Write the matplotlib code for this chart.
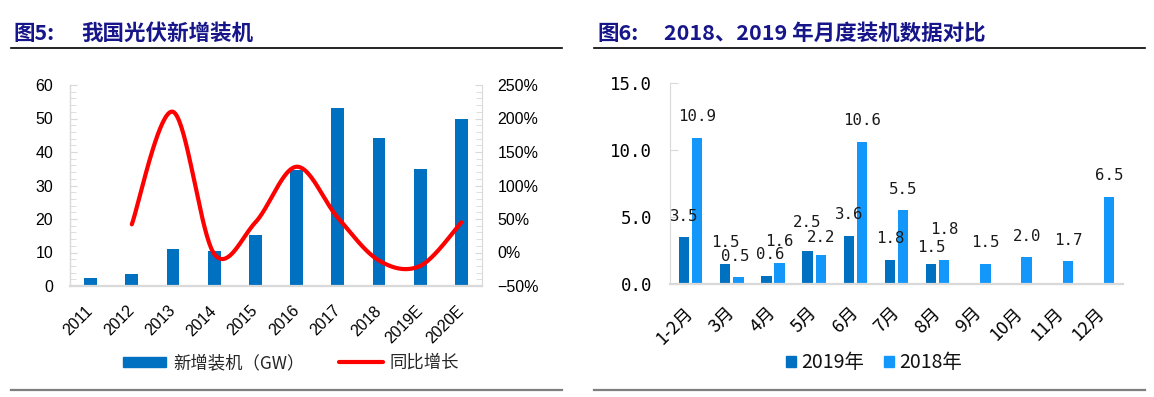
import numpy as np
import matplotlib
matplotlib.use("Agg")
import matplotlib.pyplot as plt
from matplotlib.lines import Line2D
from matplotlib.patches import Patch
from matplotlib.ticker import MultipleLocator, FuncFormatter

# ---------------- data ----------------
years = ["2011", "2012", "2013", "2014", "2015", "2016", "2017", "2018", "2019E", "2020E"]
new_install = [2.5, 3.5, 11.0, 10.5, 15.2, 34.5, 53.0, 44.3, 35.0, 50.0]
growth_years = ["2012", "2013", "2014", "2015", "2016", "2017", "2018", "2019E", "2020E"]
growth_pct = [42, 210, -2, 45, 128, 52, -12, -20, 45]

months = ["1-2月", "3月", "4月", "5月", "6月", "7月", "8月", "9月", "10月", "11月", "12月"]
m2019 = [3.5, 1.5, 0.6, 2.5, 3.6, 1.8, 1.5, None, None, None, None]
m2018 = [10.9, 0.5, 1.6, 2.2, 10.6, 5.5, 1.8, 1.5, 2.0, 1.7, 6.5]

# ---------------- style ----------------
W, H = 1154, 397
fig = plt.figure(figsize=(W / 100, H / 100), dpi=100)
CJK = ["Noto Sans CJK SC", "DejaVu Sans"]
NAVY = "#16168A"
BLUE = "#0070C0"
LBLUE = "#1497FA"
GRID = "#D9D9D9"


def fx(px):
    return px / W


def fy(py):
    return 1 - py / H


# titles
fig.text(fx(13), fy(33), "图5:", family=CJK, weight="bold", fontsize=15.5, color=NAVY, va="center")
fig.text(fx(81), fy(33), "我国光伏新增装机", family=CJK, weight="bold", fontsize=15.5, color=NAVY, va="center")
fig.text(fx(597), fy(33), "图6:", family=CJK, weight="bold", fontsize=15.5, color=NAVY, va="center")
fig.text(fx(664), fy(33), "2018、2019 年月度装机数据对比", family=CJK, weight="bold", fontsize=15.5,
         color=NAVY, va="center")

for x0, x1 in [(11, 562), (594, 1145)]:
    fig.add_artist(Line2D([fx(x0), fx(x1)], [fy(48), fy(48)], color="black", lw=1.2))
    fig.add_artist(Line2D([fx(x0), fx(x1)], [fy(390), fy(390)], color="#7F7F7F", lw=1.6))

# ---------------- left chart ----------------
ax1 = fig.add_axes([fx(70), fy(286), fx(482) - fx(70), fy(85) - fy(286)])
x = np.arange(len(years))
ax1.bar(x, new_install, width=0.31, color=BLUE, zorder=2)
ax1.set_xlim(-0.5, len(years) - 0.5)
ax1.set_ylim(0, 60)
ax1.yaxis.set_major_locator(MultipleLocator(10))
ax1.yaxis.set_minor_locator(MultipleLocator(2))
for s in ["top", "right"]:
    ax1.spines[s].set_visible(False)
ax1.spines["left"].set_color(GRID)
ax1.spines["left"].set_linewidth(1.0)
ax1.spines["bottom"].set_color(GRID)
ax1.spines["bottom"].set_linewidth(1.6)
ax1.tick_params(axis="y", which="both", direction="in", color=GRID, labelsize=11.5, pad=12)
ax1.tick_params(axis="y", which="major", length=5)
ax1.tick_params(axis="y", which="minor", length=4)
ax1.tick_params(axis="x", length=0, pad=16)
ax1.set_xticks(x)
ax1.set_xticklabels(years, rotation=45, ha="right", va="center", rotation_mode="anchor",
                    family="Liberation Sans", fontsize=11.5)
for lab in ax1.get_yticklabels():
    lab.set_family("Liberation Sans")

ax2 = ax1.twinx()
ax2.set_ylim(-50, 250)
ax2.yaxis.set_major_locator(MultipleLocator(50))
ax2.yaxis.set_minor_locator(MultipleLocator(10))
ax2.yaxis.set_major_formatter(FuncFormatter(lambda v, p: f"{v:.0f}%".replace("-", "\u2212")))
for s in ["top", "left", "bottom"]:
    ax2.spines[s].set_visible(False)
ax2.spines["right"].set_color(GRID)
ax2.tick_params(axis="y", which="both", direction="in", color=GRID, labelsize=11.5, pad=11)
ax2.tick_params(axis="y", which="major", length=5)
ax2.tick_params(axis="y", which="minor", length=4)
for lab in ax2.get_yticklabels():
    lab.set_family("Liberation Sans")

# smoothed (Excel-style Bezier) growth line
gx = np.array([years.index(g) for g in growth_years], dtype=float)
gy = np.array(growth_pct, dtype=float)
pts = np.column_stack([gx, gy])
segs = []
t = np.linspace(0, 1, 40)[:, None]
for i in range(len(pts) - 1):
    p0 = pts[i - 1] if i > 0 else pts[i]
    p1, p2 = pts[i], pts[i + 1]
    p3 = pts[i + 2] if i + 2 < len(pts) else pts[i + 1]
    c1 = p1 + (p2 - p0) / 6
    c2 = p2 - (p3 - p1) / 6
    segs.append((1 - t) ** 3 * p1 + 3 * (1 - t) ** 2 * t * c1 + 3 * (1 - t) * t ** 2 * c2 + t ** 3 * p2)
curve = np.vstack(segs)
ax2.plot(curve[:, 0], curve[:, 1], color="#FF0000", lw=3, solid_capstyle="round", zorder=3)

fig.legend([Patch(color=BLUE), Line2D([], [], color="#FF0000", lw=3, solid_capstyle="round")],
           ["新增装机（GW）", "同比增长"], loc="center", bbox_to_anchor=(fx(291), fy(363)),
           ncol=2, frameon=False, prop={"family": CJK, "size": 12.5},
           handlelength=2.5, handleheight=0.5, handletextpad=0.4, columnspacing=2.0,
           labelcolor="#262626")

# ---------------- right chart ----------------
ax3 = fig.add_axes([fx(670), fy(284), fx(1123) - fx(670), fy(83) - fy(284)])
xm = np.arange(len(months))
bw = 0.25
off = 0.16
x19 = [i - off for i, v in enumerate(m2019) if v is not None]
v19 = [v for v in m2019 if v is not None]
ax3.bar(x19, v19, width=bw, color=BLUE, zorder=2)
ax3.bar(xm + off, m2018, width=bw, color=LBLUE, zorder=2)
ax3.set_xlim(-0.5, len(months) - 0.5)
ax3.set_ylim(0, 15)
ax3.yaxis.set_major_locator(MultipleLocator(5))
ax3.yaxis.set_major_formatter(FuncFormatter(lambda v, p: f"{v:.1f}"))
for s in ["top", "right"]:
    ax3.spines[s].set_visible(False)
ax3.spines["left"].set_color(GRID)
ax3.spines["bottom"].set_color(GRID)
ax3.spines["bottom"].set_linewidth(1.6)
ax3.tick_params(axis="y", direction="in", color=GRID, length=6, labelsize=12.5, pad=13)
for lab in ax3.get_yticklabels():
    lab.set_family("DejaVu Sans Mono")
ax3.tick_params(axis="x", length=0, pad=19)
ax3.set_xticks(xm)
ax3.set_xticklabels(months, rotation=45, ha="right", va="center", rotation_mode="anchor",
                    family=CJK, fontsize=13)

# value labels (pixel offsets above bars, adjusted where the reference nudges them)
lift19 = {3: 28, 6: 16}
lift18 = {3: 17, 6: 30}
shift18 = {1: -2}
shift19 = {2: 3}
for i, v in enumerate(m2019):
    if v is None:
        continue
    ax3.annotate(f"{v:.1f}", (i - off, v), xytext=(shift19.get(i, 0), lift19.get(i, 21) * 0.72),
                 textcoords="offset points", ha="center", va="center",
                 family="DejaVu Sans Mono", fontsize=11.3, color="#1a1a1a")
for i, v in enumerate(m2018):
    ax3.annotate(f"{v:.1f}", (i + off, v), xytext=(shift18.get(i, 0), lift18.get(i, 21) * 0.72),
                 textcoords="offset points", ha="center", va="center",
                 family="DejaVu Sans Mono", fontsize=11.3, color="#1a1a1a")

fig.legend([Patch(color=BLUE), Patch(color=LBLUE)], ["2019年", "2018年"], loc="center",
           bbox_to_anchor=(fx(874), fy(363)), ncol=2, frameon=False,
           prop={"family": CJK, "size": 14}, handlelength=0.5, handleheight=0.5,
           handletextpad=0.3, columnspacing=1.0, labelcolor="#111111")

fig.savefig("out.png", dpi=100)
